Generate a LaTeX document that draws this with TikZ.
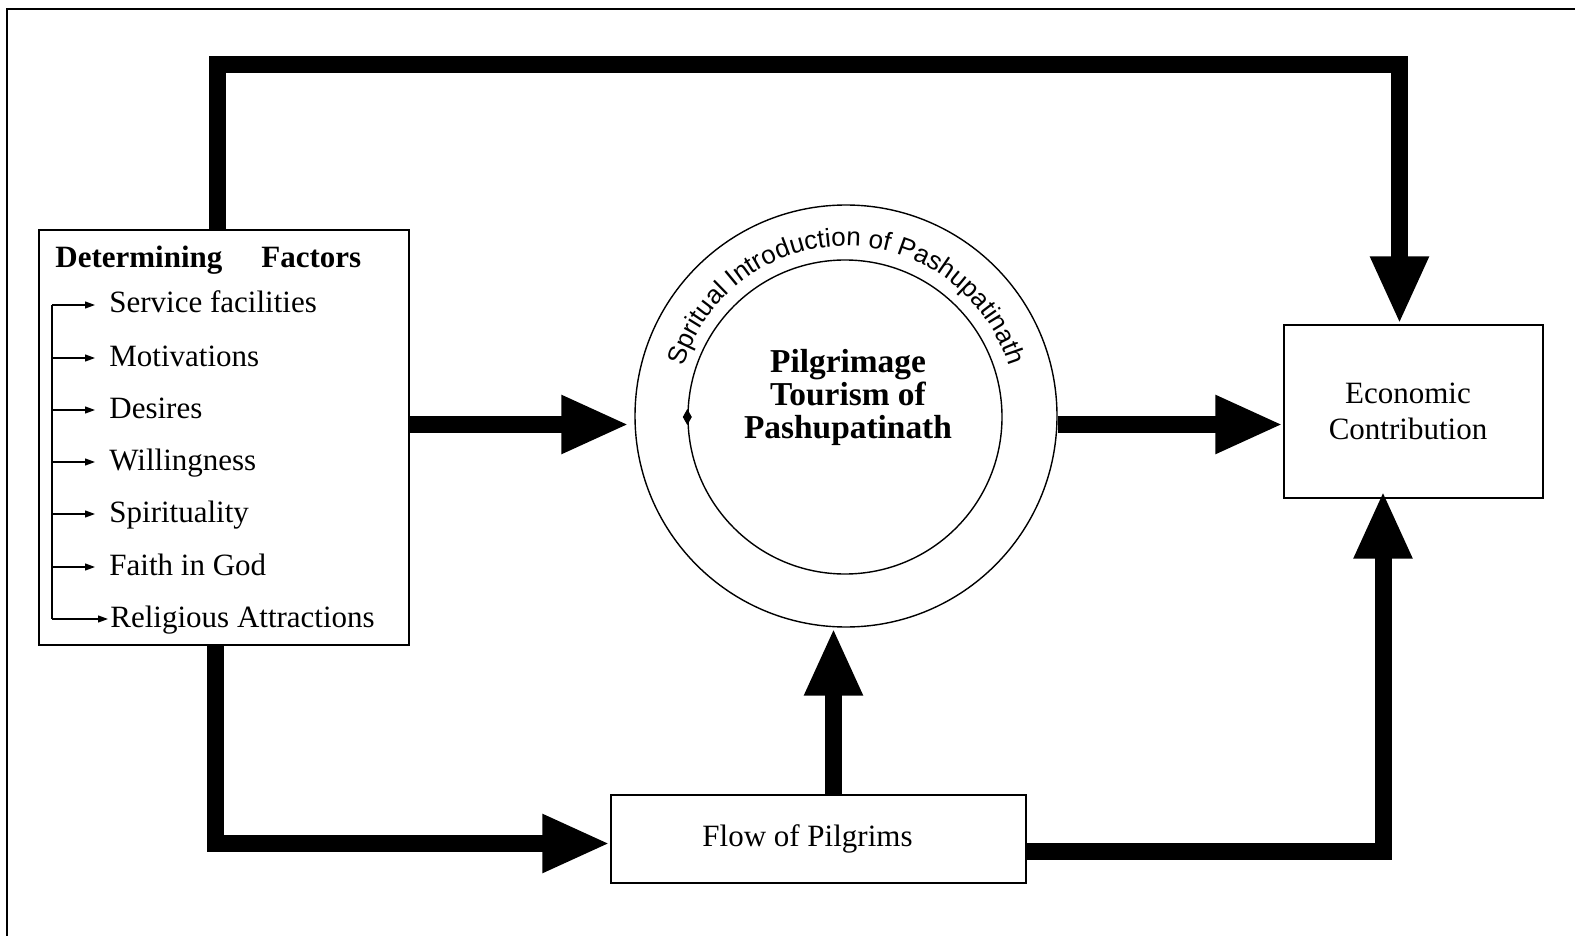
\documentclass[tikz,border=0pt]{standalone}
\usepackage{fontspec}
\setmainfont{Liberation Serif}
\newfontfamily\arcfont{Liberation Sans}
\usetikzlibrary{arrows.meta,decorations.text,calc}
\begin{document}
\begin{tikzpicture}[x=0.5pt,y=0.5pt,
  font=\fontsize{15.5}{18}\selectfont,
  box/.style={draw, line width=0.7pt, inner sep=0pt, align=center},
  bigarrow/.style={line width=8.5pt, line join=miter, -{Triangle[length=34pt,width=27pt]}},
  smallarrow/.style={line width=0.6pt, -{Triangle[length=5pt,width=3.5pt]}},
  item/.style={anchor=base west, inner sep=0pt, text height=8pt, text depth=0pt},
  ring/.style={circle, draw, line width=0.7pt, inner sep=0pt}]
\useasboundingbox (0,0) rectangle (1575,-936);
\draw[line width=1pt] (7,-936) -- (7,-9) -- (1575,-9);

% Determining factors box
\node[box, minimum width=185pt, minimum height=207.5pt] (det) at (224,-437.5) {};
\node[anchor=base west, inner sep=0pt, font=\fontsize{15.5}{18}\selectfont\bfseries] (dethead) at (55,-268) {Determining\hspace*{19.5pt}Factors};
\node[item] (f1) at (109,-313) {Service facilities};
\node[item] (f2) at (109,-366) {Motivations};
\node[item] (f3) at (109,-418) {Desires};
\node[item] (f4) at (109,-470) {Willingness};
\node[item] (f5) at (109,-522) {Spirituality};
\node[item] (f6) at (109,-575) {Faith in God};
\node[item] (f7) at (110,-627) {Religious Attractions};
\coordinate (sp) at (52,0);
\draw[line width=0.6pt] (sp |- f1.west) -- (sp |- f7.west);
\foreach \f in {f1,f2,f3,f4,f5,f6}{
  \draw[smallarrow] (sp |- \f.west) -- ([xshift=-7pt]\f.west);
}
\draw[smallarrow] (sp |- f7.west) -- ([xshift=-1pt]f7.west);

% Central circle
\node[ring, minimum size=211pt] (outer) at (846,-416) {};
\node[ring, minimum size=157pt] (pil) at (845,-417) {};
\node[align=center, inner sep=0pt, font=\fontsize{16.7}{16.5}\selectfont\bfseries] (ptext) at (848,-397) {Pilgrimage\\Tourism of\\Pashupatinath};
\fill[shift={(pil.west)}] (-4.5,0) -- (0,8) -- (4.5,0) -- (0,-8) -- cycle;
\path[decorate, decoration={text along path, text align=center,
  text={|\arcfont\fontsize{13}{13}\selectfont|Spritual Introduction of Pashupatinath}}]
  ($(outer.center)+(167:85pt)$) arc[start angle=167, end angle=13, radius=85pt];

% Other boxes
\node[box, minimum width=129.5pt, minimum height=86.5pt] (eco) at (1413.5,-411.5) {Economic\hspace*{5.5pt}\\Contribution\hspace*{5.5pt}};
\node[box, minimum width=207.5pt, minimum height=44pt] (flow) at (818.5,-839) {Flow of Pilgrims\hspace*{11pt}};

% Connectors
\coordinate (tl) at (217.5,-64.5);
\coordinate (tr) at (1399.5,-64.5);
\draw[bigarrow] (det.north -| tl) -- (tl) -- (tr) -- (tr |- eco.north);
\coordinate (ay) at (0,-424.5);
\draw[bigarrow, shorten >=2.5pt] (det.east |- ay) -- (outer.west |- ay);
\draw[bigarrow] (outer.east |- ay) -- (eco.west |- ay);
\coordinate (bl) at (215.5,-843.5);
\draw[bigarrow] (det.south -| bl) -- (bl) -- (flow.west |- bl);
\coordinate (ux) at (833.5,0);
\draw[bigarrow] (flow.north -| ux) -- (outer.south -| ux);
\coordinate (br) at (1383,-851.5);
\draw[bigarrow, shorten >=-4pt] (flow.east |- br) -- (br) -- (br |- eco.south);
\end{tikzpicture}
\end{document}
